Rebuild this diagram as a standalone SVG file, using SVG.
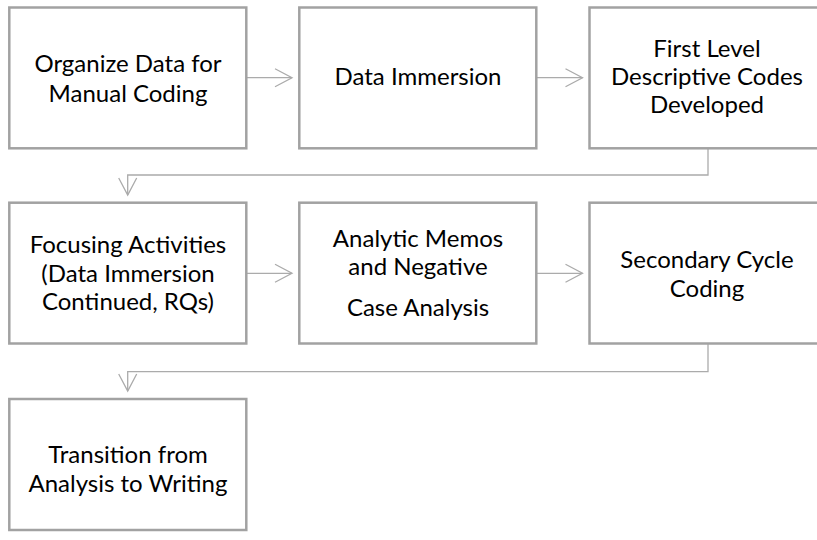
<svg xmlns="http://www.w3.org/2000/svg" width="817" height="540" viewBox="0 0 817 540">
<defs>
<style>
.box{fill:#ffffff;stroke:#a2a2a2;stroke-width:2.5}
.lbl{font-family:Lato,"Open Sans","Liberation Sans",sans-serif;font-size:24px;fill:#000000;text-anchor:middle}
.con{fill:none;stroke:#ababab;stroke-width:1.3}
</style>
<marker id="arr" markerUnits="userSpaceOnUse" markerWidth="22" markerHeight="22" viewBox="-20 -11 22 22" refX="0" refY="0" orient="auto">
<path d="M-17,-9 L0,0 L-17,9" fill="none" stroke="#ababab" stroke-width="1.3"/>
</marker>
</defs>
<rect width="817" height="540" fill="#ffffff"/>
<g id="connectors">
<path class="con" d="M246,77.7 H292" marker-end="url(#arr)"/>
<path class="con" d="M536,77.7 H582.5" marker-end="url(#arr)"/>
<path class="con" d="M708,148.5 V175 H127.7 V195" marker-end="url(#arr)"/>
<path class="con" d="M246,273.3 H292" marker-end="url(#arr)"/>
<path class="con" d="M536,273.3 H582.5" marker-end="url(#arr)"/>
<path class="con" d="M708,343.5 V371.7 H127.7 V391" marker-end="url(#arr)"/>
</g>
<g id="node1">
<rect class="box" x="9.3" y="7.5" width="237" height="140.8"/>
<text class="lbl" x="128" y="71.7">Organize Data for</text>
<text class="lbl" x="128" y="101.7">Manual Coding</text>
</g>
<g id="node2">
<rect class="box" x="299.3" y="7.5" width="237" height="140.8"/>
<text class="lbl" x="418" y="85">Data Immersion</text>
</g>
<g id="node3">
<rect class="box" x="589.5" y="7.5" width="237" height="140.8"/>
<text class="lbl" x="707" y="56.7">First Level</text>
<text class="lbl" x="707" y="85">Descriptive Codes</text>
<text class="lbl" x="707" y="113.3">Developed</text>
</g>
<g id="node4">
<rect class="box" x="9.3" y="202.7" width="237" height="140.8"/>
<text class="lbl" x="128" y="253.3">Focusing Activities</text>
<text class="lbl" x="128" y="281.7">(Data Immersion</text>
<text class="lbl" x="128" y="310">Continued, RQs)</text>
</g>
<g id="node5">
<rect class="box" x="299.3" y="202.7" width="237" height="140.8"/>
<text class="lbl" x="418" y="246.7">Analytic Memos</text>
<text class="lbl" x="418" y="275">and Negative</text>
<text class="lbl" x="418" y="315.5">Case Analysis</text>
</g>
<g id="node6">
<rect class="box" x="589.5" y="202.7" width="237" height="140.8"/>
<text class="lbl" x="707" y="268.3">Secondary Cycle</text>
<text class="lbl" x="707" y="296.7">Coding</text>
</g>
<g id="node7">
<rect class="box" x="9.3" y="399" width="237" height="131"/>
<text class="lbl" x="128" y="462.7">Transition from</text>
<text class="lbl" x="128" y="491.7">Analysis to Writing</text>
</g>
</svg>
